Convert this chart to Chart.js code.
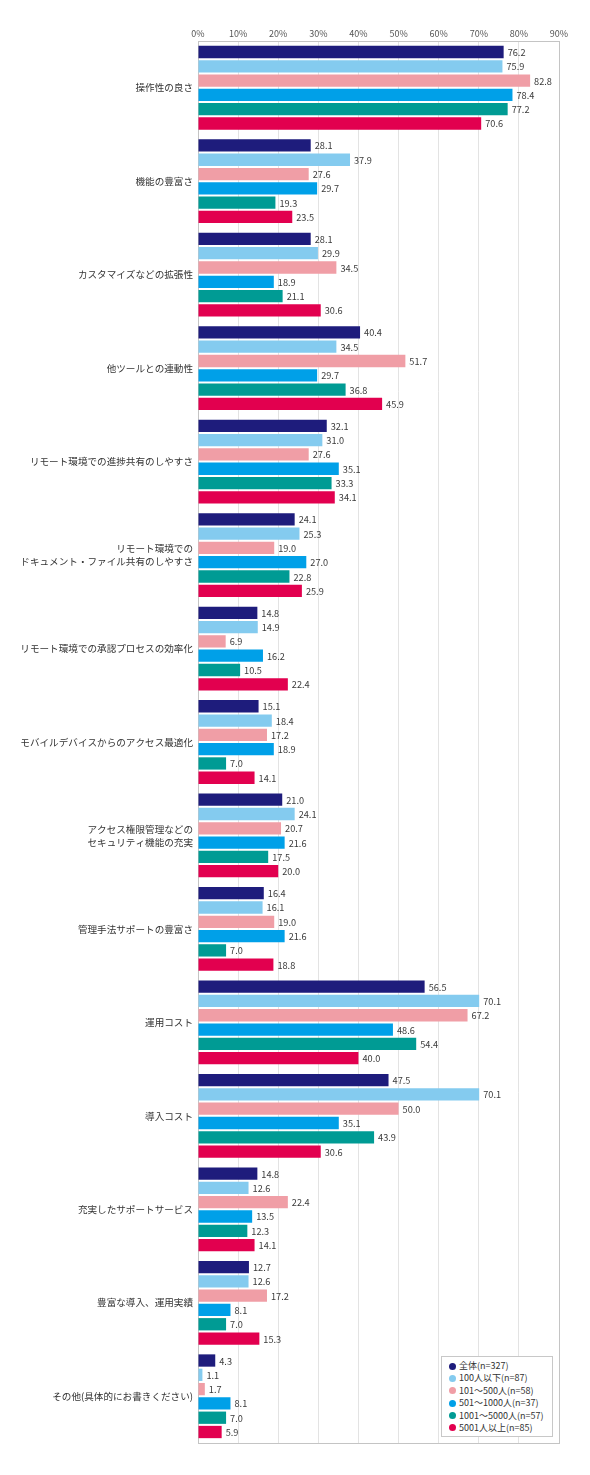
<!DOCTYPE html>
<html>
<head>
<meta charset="utf-8">
<script src="https://cdn.jsdelivr.net/npm/chart.js@4.4.0/dist/chart.umd.min.js"></script>
<style>
html,body{margin:0;padding:0;background:#fff;}
#wrap{position:relative;width:590px;height:1475px;}
#legend{position:absolute;left:441px;top:1356px;width:112px;height:81px;border:1px solid #c8c8c8;background:#fff;box-sizing:border-box;padding:3px 0 0 7px;font-family:"Noto Sans CJK JP","Noto Sans",sans-serif;font-size:9px;color:#333;}
#legend div{height:12.4px;line-height:12.4px;white-space:nowrap;}
#legend span{display:inline-block;width:7px;height:7px;border-radius:50%;margin-right:3px;vertical-align:-0.5px;}
</style>
</head>
<body>
<div id="wrap">
<canvas id="c" width="590" height="1475"></canvas>
<div id="legend"></div>
</div>
<script>
const categories = [
  "操作性の良さ",
  "機能の豊富さ",
  "カスタマイズなどの拡張性",
  "他ツールとの連動性",
  "リモート環境での進捗共有のしやすさ",
  ["リモート環境での","ドキュメント・ファイル共有のしやすさ"],
  "リモート環境での承認プロセスの効率化",
  "モバイルデバイスからのアクセス最適化",
  ["アクセス権限管理などの","セキュリティ機能の充実"],
  "管理手法サポートの豊富さ",
  "運用コスト",
  "導入コスト",
  "充実したサポートサービス",
  "豊富な導入、運用実績",
  "その他(具体的にお書きください)"
];
const seriesNames = ["全体(n=327)","100人以下(n=87)","101～500人(n=58)","501～1000人(n=37)","1001～5000人(n=57)","5001人以上(n=85)"];
const seriesColors = ["#1e1c7c","#84cbef","#f09ea6","#00a0e8","#009b94","#e2004f"];
const zentai   = [76.2,28.1,28.1,40.4,32.1,24.1,14.8,15.1,21.0,16.4,56.5,47.5,14.8,12.7,4.3];
const under100 = [75.9,37.9,29.9,34.5,31.0,25.3,14.9,18.4,24.1,16.1,70.1,70.1,12.6,12.6,1.1];
const s101_500 = [82.8,27.6,34.5,51.7,27.6,19.0,6.9,17.2,20.7,19.0,67.2,50.0,22.4,17.2,1.7];
const s501_1000 = [78.4,29.7,18.9,29.7,35.1,27.0,16.2,18.9,21.6,21.6,48.6,35.1,13.5,8.1,8.1];
const s1001_5000 = [77.2,19.3,21.1,36.8,33.3,22.8,10.5,7.0,17.5,7.0,54.4,43.9,12.3,7.0,7.0];
const over5001 = [70.6,23.5,30.6,45.9,34.1,25.9,22.4,14.1,20.0,18.8,40.0,30.6,14.1,15.3,5.9];
const seriesValues = [zentai, under100, s101_500, s501_1000, s1001_5000, over5001];
const tickLabels = ["0%","10%","20%","30%","40%","50%","60%","70%","80%","90%"];

const FONT = '"Noto Sans CJK JP","Noto Sans",sans-serif';

const valueLabels = {
  id:'valueLabels',
  afterDatasetsDraw(chart){
    const ctx = chart.ctx;
    ctx.save();
    ctx.font = '9.2px ' + FONT;
    ctx.fillStyle = '#3a3a3a';
    ctx.textBaseline = 'middle';
    ctx.textAlign = 'left';
    chart.data.datasets.forEach((ds,i)=>{
      chart.getDatasetMeta(i).data.forEach((bar,j)=>{
        ctx.fillText(ds.data[j].toFixed(1), bar.x + 4, bar.y + 0.5);
      });
    });
    ctx.restore();
  }
};
const frame = {
  id:'frame',
  beforeDatasetsDraw(chart){
    const a = chart.chartArea, ctx = chart.ctx;
    ctx.save();
    ctx.strokeStyle = '#c4c4c4';
    ctx.lineWidth = 1;
    ctx.strokeRect(Math.round(a.left)+0.5, Math.round(a.top)+0.5, Math.round(a.right-a.left), Math.round(a.bottom-a.top));
    ctx.restore();
  }
};

new Chart(document.getElementById('c'), {
  type:'bar',
  data:{
    labels: categories,
    datasets: seriesValues.map((v,i)=>({
      label: seriesNames[i],
      data: v,
      backgroundColor: seriesColors[i],
      borderWidth: 0,
      categoryPercentage: 0.918,
      barPercentage: 0.86
    }))
  },
  options:{
    indexAxis:'y',
    responsive:false,
    animation:false,
    devicePixelRatio:1,
    layout:{padding:{left:0,right:31,top:0,bottom:32}},
    plugins:{legend:{display:false},tooltip:{enabled:false}},
    scales:{
      x:{
        position:'top',
        min:0,max:90,
        afterFit(s){ s.height = 41; },
        grid:{color:'#e3e3e3',drawTicks:false,lineWidth:1},
        border:{display:false},
        ticks:{
          stepSize:10,
          padding:2,
          color:'#555',
          font:{family:FONT,size:9},
          callback:(v,i)=>tickLabels[i]
        }
      },
      y:{
        afterFit(s){ s.width = 198; },
        grid:{display:false,drawTicks:false},
        border:{display:true,color:'#999'},
        ticks:{
          padding:5,
          color:'#333',
          font:{family:FONT,size:9.6,lineHeight:1.35},
          autoSkip:false
        }
      }
    }
  },
  plugins:[frame, valueLabels]
});

const lg = document.getElementById('legend');
seriesNames.forEach((n,i)=>{
  const d = document.createElement('div');
  const s = document.createElement('span');
  s.style.background = seriesColors[i];
  d.appendChild(s);
  d.appendChild(document.createTextNode(n));
  lg.appendChild(d);
});
</script>
</body>
</html>
